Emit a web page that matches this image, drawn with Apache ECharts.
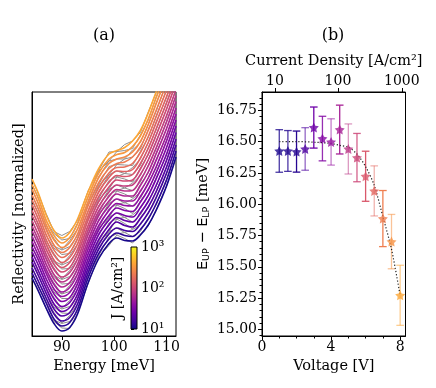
<!DOCTYPE html>
<html>
<head>
<meta charset="utf-8">
<script src="https://cdn.jsdelivr.net/npm/echarts@6/dist/echarts.min.js"></script>
<style>
html, body { margin: 0; padding: 0; background: #fff; }
#chart { width: 436px; height: 388px; }
</style>
</head>
<body>
<div id="chart"></div>
<script>
// ---- panel (a) ----
var energies = [84.3, 85.5, 87, 88.5, 90, 91.5, 93, 95, 97, 99, 100.5, 102, 103.5, 105, 106.5, 108, 110, 111.8];
// fitted reflectivity, stacked with offset, lowest current density first
var fitCurves = [
  [58, 45, 28, 12.5, 5, 8.5, 22, 53, 77, 92.5, 98, 95.5, 95, 101, 111, 125.5, 150, 179],
  [63, 50, 33, 17, 10, 13.5, 27, 58, 82, 97, 103, 100.5, 99.5, 106.5, 117, 132, 156, 185],
  [68, 55, 38, 22, 15, 18.5, 32, 63, 86.5, 102, 108, 105.5, 104.5, 112, 123, 138, 163, 191],
  [74, 60.5, 43, 27, 20, 23.5, 37, 67.5, 91, 106.5, 114, 110.5, 109, 117.5, 129, 144, 169, 197],
  [79, 65.5, 47.5, 32, 24.5, 28.5, 42, 72, 96, 111, 118.5, 115.5, 114, 123, 134.5, 150.5, 175.5, 203.5],
  [84, 71, 52.5, 37, 29.5, 33.5, 47, 77, 101, 116, 123, 120.5, 119, 128.5, 140.5, 157, 182, 210],
  [89, 76, 57.5, 42, 34.5, 38.5, 52, 82, 105.5, 120.5, 128, 125.5, 124.5, 134, 146.5, 163, 188.5, 216],
  [94.5, 81, 62.5, 47, 39.5, 43.5, 57, 86.5, 110, 125.5, 132.5, 130.5, 130, 139.5, 152.5, 169, 195, 222],
  [99.5, 86, 67, 51.5, 44, 48.5, 62, 91.5, 115, 130, 137, 135, 135, 145, 158, 175.5, 201, 228],
  [105, 91.5, 72, 56.5, 49, 53.5, 67, 96, 120, 135, 142, 140, 140, 150.5, 164, 182, 207.5, 234.5],
  [110, 96.5, 77, 61.5, 54, 58.5, 72, 101, 124.5, 139.5, 146.5, 145, 145.5, 156, 170, 188, 214, 240.5],
  [115, 101.5, 82, 66.5, 59, 63.5, 77, 106, 129, 144, 151, 150, 151, 161.5, 176, 194, 220.5, 246.5],
  [120.5, 107, 87, 71.5, 64, 68.5, 82, 110.5, 134, 149, 156, 155, 156, 167, 182, 200.5, 227, 253],
  [125.5, 112, 91.5, 76, 68.5, 73.5, 87, 115.5, 139, 153.5, 160.5, 159.5, 161.5, 172.5, 187.5, 207, 233, 259],
  [131, 117, 96.5, 81, 73.5, 78.5, 92, 120, 143.5, 158.5, 165, 164.5, 166.5, 178, 193.5, 213, 239.5, 265],
  [136, 122, 101.5, 86, 78.5, 83.5, 97, 125, 148, 163, 168.5, 169, 172.5, 183.5, 199.5, 219, 246, 271],
  [141, 127.5, 106.5, 91, 83.5, 88.5, 102, 130, 153, 167.5, 172.5, 174, 179, 189, 205.5, 225.5, 252.5, 277.5],
  [146.5, 132.5, 111.5, 96, 88.5, 93.5, 107, 134.5, 158, 172.5, 177, 179, 184, 194.5, 211.5, 232, 259, 283.5],
  [151.5, 137.5, 116, 100.5, 93, 98.5, 112, 139.5, 162.5, 177, 181.5, 183.5, 189.5, 200, 217, 238, 265, 289.5],
  [157, 143, 121, 105.5, 98, 103.5, 117, 144, 167, 182, 185.5, 188.5, 195, 205.5, 223, 244, 271.5, 296]
];
// measured traces (gray) scatter around the fits by these residuals
var dataResiduals = [
  [0, 1, -1, 2, 3, -1, 1, -1, 2, -2, 3, 2, -2, 1, -1, 1, 0, 0],
  [0, -1, 1.5, -1, 2.5, 1, -1.5, 1, -2, 2, -1, 3, 0, -2, 1, -1, 1, 0],
  [1, 0, -1, 1.5, -2, 2, 0, -1.5, 1, 2.5, 0, -2, 2, -1, 0, 1, -1, 0]
];
var energyTicks = [90, 100, 110];
var colorbarTicks = [10, 100, 1000];

// ---- panel (b) ----
var voltage = [1, 1.5, 2, 2.5, 3, 3.5, 4, 4.5, 5, 5.5, 6, 6.5, 7, 7.5, 8];
var splitting = [16.425, 16.425, 16.42, 16.441, 16.612, 16.524, 16.497, 16.596, 16.441, 16.372, 16.223, 16.106, 15.885, 15.701, 15.272];
var splittingErr = [0.17, 0.163, 0.164, 0.17, 0.164, 0.178, 0.185, 0.195, 0.2, 0.193, 0.2, 0.2, 0.224, 0.217, 0.24];
var fitVoltage = [1, 2, 3, 4, 4.5, 5, 5.5, 6, 6.5, 7, 7.5, 8];
var fitSplitting = [16.5, 16.5, 16.495, 16.485, 16.47, 16.455, 16.4, 16.3, 16.15, 15.9, 15.64, 15.27];
var voltageTicks = [0, 4, 8];
var splittingTicks = [15, 15.25, 15.5, 15.75, 16, 16.25, 16.5, 16.75];
var currentTicks = ['10', '100', '1000'];
var currentTickVoltage = [0.75, 4.4, 8.1];

// styles
var pointColorPos = [0.03, 0.04, 0.05, 0.13, 0.21, 0.27, 0.32, 0.37, 0.44, 0.5, 0.56, 0.61, 0.68, 0.74, 0.8];
var barAlpha = [0.8, 0.8, 1, 0.6, 1, 0.85, 0.55, 1, 0.5, 0.85, 1, 0.5, 1, 0.55, 0.55];

var plasmaStops = ['#0d0887', '#41049d', '#6a00a8', '#8f0da4', '#b12a90', '#cc4778',
  '#e16462', '#f2844b', '#fca636', '#fcce25', '#f0f921'];

function hexRgb(h) {
  return [parseInt(h.substr(1, 2), 16), parseInt(h.substr(3, 2), 16), parseInt(h.substr(5, 2), 16)];
}
function plasma(t, a) {
  var p = Math.max(0, Math.min(1, t)) * (plasmaStops.length - 1);
  var i = Math.min(Math.floor(p), plasmaStops.length - 2), f = p - i;
  var c0 = hexRgb(plasmaStops[i]), c1 = hexRgb(plasmaStops[i + 1]);
  var c = c0.map(function (v, j) { return Math.round(v + (c1[j] - v) * f); });
  return 'rgba(' + c.join(',') + ',' + (a == null ? 1 : a) + ')';
}

var FONT = 'DejaVu Serif';
var STAR = 'path://M0,-10L2.94,-4.05L9.51,-3.09L4.76,1.55L5.88,8.09L0,5L-5.88,8.09L-4.76,1.55L-9.51,-3.09L-2.94,-4.05Z';

var series = [];
// gray measured traces
fitCurves.forEach(function (row, k) {
  var res = dataResiduals[k % dataResiduals.length];
  series.push({
    type: 'line', xAxisIndex: 0, yAxisIndex: 0,
    data: energies.map(function (e, i) { return [e, row[i] + res[i]]; }),
    showSymbol: false, smooth: false, silent: true, z: 1,
    lineStyle: { color: '#8e8e8e', width: 1 }
  });
});
// coloured fits
fitCurves.forEach(function (row, k) {
  series.push({
    type: 'line', xAxisIndex: 0, yAxisIndex: 0,
    data: energies.map(function (e, i) { return [e, row[i]]; }),
    showSymbol: false, smooth: 0.35, silent: true, z: 2,
    lineStyle: { color: plasma(0.02 + k * 0.041), width: 1.6 }
  });
});
// error bars
series.push({
  type: 'custom', xAxisIndex: 1, yAxisIndex: 1, z: 3,
  data: voltage.map(function (v, i) {
    return {
      value: [v, splitting[i] - splittingErr[i], splitting[i] + splittingErr[i]],
      itemStyle: { color: plasma(pointColorPos[i], barAlpha[i]) }
    };
  }),
  renderItem: function (params, api) {
    var top = api.coord([api.value(0), api.value(2)]);
    var bot = api.coord([api.value(0), api.value(1)]);
    var w = 3.8;
    var st = { stroke: api.visual('color'), lineWidth: 1.3, fill: null };
    return {
      type: 'group', children: [
        { type: 'line', shape: { x1: top[0], y1: top[1], x2: bot[0], y2: bot[1] }, style: st },
        { type: 'line', shape: { x1: top[0] - w, y1: top[1], x2: top[0] + w, y2: top[1] }, style: st },
        { type: 'line', shape: { x1: bot[0] - w, y1: bot[1], x2: bot[0] + w, y2: bot[1] }, style: st }
      ]
    };
  }
});
// fit line
series.push({
  type: 'line', xAxisIndex: 1, yAxisIndex: 1, z: 4,
  data: fitVoltage.map(function (v, i) { return [v, fitSplitting[i]]; }),
  showSymbol: false, smooth: 0.3, silent: true,
  lineStyle: { color: '#222', width: 1.2, type: [1.2, 2] }
});
// star markers
series.push({
  type: 'scatter', xAxisIndex: 1, yAxisIndex: 1, z: 5,
  symbol: STAR, symbolSize: 10,
  data: voltage.map(function (v, i) {
    return { value: [v, splitting[i]], itemStyle: { color: plasma(pointColorPos[i], 1) } };
  })
});

var yMinorTicks = [];
for (var t = 14.95; t < 16.9; t += 0.05) {
  var r = Math.round(t * 100) / 100;
  if (Math.abs(r * 4 - Math.round(r * 4)) > 1e-6) yMinorTicks.push(r);
}

var labelStyle = { color: '#000', fontFamily: FONT, fontSize: 14 };
var nameStyle = { color: '#000', fontFamily: FONT, fontSize: 14.5 };
var gridBorder = { show: true, borderColor: '#000', borderWidth: 1, backgroundColor: 'transparent' };

var option = {
  animation: false,
  textStyle: { fontFamily: FONT },
  grid: [
    Object.assign({ left: 32, top: 92, width: 144, height: 244 }, gridBorder),
    Object.assign({ left: 262, top: 92, width: 143.5, height: 244 }, gridBorder),
    { left: 131, top: 247, width: 6, height: 82 }
  ],
  xAxis: [
    {
      gridIndex: 0, type: 'value', min: 84.3, max: 111.8,
      name: 'Energy [meV]', nameLocation: 'middle', nameGap: 21, nameTextStyle: nameStyle,
      axisLine: { lineStyle: { color: '#000' } },
      axisTick: { customValues: energyTicks, length: 4, lineStyle: { color: '#000' } },
      axisLabel: Object.assign({ customValues: energyTicks, margin: 4 }, labelStyle),
      splitLine: { show: false }
    },
    {
      gridIndex: 1, type: 'value', min: 0, max: 8.31,
      name: 'Voltage [V]', nameLocation: 'middle', nameGap: 21, nameTextStyle: nameStyle,
      axisLine: { lineStyle: { color: '#000' } },
      axisTick: { customValues: voltageTicks, length: 4, lineStyle: { color: '#000' } },
      axisLabel: Object.assign({ customValues: voltageTicks, margin: 4 }, labelStyle),
      splitLine: { show: false }
    },
    {
      gridIndex: 1, type: 'value', min: 0, max: 8.31, position: 'bottom',
      axisLine: { show: false },
      axisTick: { customValues: [1, 2, 3, 5, 6, 7], length: 2.5, lineStyle: { color: '#000' } },
      axisLabel: { show: false }, splitLine: { show: false }
    },
    {
      gridIndex: 1, type: 'value', min: 0, max: 8.31, position: 'top',
      name: 'Current Density [A/cm²]', nameLocation: 'middle', nameGap: 23, nameTextStyle: nameStyle,
      axisLine: { lineStyle: { color: '#000' } },
      axisTick: { customValues: currentTickVoltage, length: 4, lineStyle: { color: '#000' } },
      axisLabel: Object.assign({
        customValues: currentTickVoltage, margin: 4,
        formatter: function (v) {
          var i = currentTickVoltage.indexOf(v);
          return i < 0 ? '' : currentTicks[i];
        }
      }, labelStyle),
      splitLine: { show: false }
    },
    { gridIndex: 2, type: 'value', min: 0, max: 1, show: false }
  ],
  yAxis: [
    {
      gridIndex: 0, type: 'value', min: 0, max: 244,
      name: 'Reflectivity [normalized]', nameLocation: 'middle', nameGap: 5, nameTextStyle: nameStyle,
      axisLine: { lineStyle: { color: '#000' } },
      axisTick: { show: false }, axisLabel: { show: false }, splitLine: { show: false }
    },
    {
      gridIndex: 1, type: 'value', min: 14.947, max: 16.896,
      name: '{m|E}{s|UP}{m| − E}{s|LP}{r| [meV]}', nameLocation: 'middle', nameGap: 50,
      nameTextStyle: {
        color: '#000', fontFamily: FONT, fontSize: 14.5,
        rich: {
          m: { color: '#000', fontFamily: 'DejaVu Sans', fontSize: 14.5, lineHeight: 18 },
          s: { color: '#000', fontFamily: 'DejaVu Sans', fontSize: 9.5, lineHeight: 18, verticalAlign: 'bottom', padding: [5, 0, 0, 0] },
          r: { color: '#000', fontFamily: FONT, fontSize: 14.5, lineHeight: 18 }
        }
      },
      axisLine: { lineStyle: { color: '#000' } },
      axisTick: { customValues: splittingTicks, length: 4, lineStyle: { color: '#000' } },
      axisLabel: Object.assign({
        customValues: splittingTicks, margin: 5,
        formatter: function (v) { return v.toFixed(2); }
      }, labelStyle),
      splitLine: { show: false }
    },
    {
      gridIndex: 1, type: 'value', min: 14.947, max: 16.896, position: 'left',
      axisLine: { show: false },
      axisTick: { customValues: yMinorTicks, length: 2.5, lineStyle: { color: '#000' } },
      axisLabel: { show: false }, splitLine: { show: false }
    },
    {
      gridIndex: 2, type: 'log', logBase: 10, min: 10, max: 1000, position: 'right',
      axisLine: { show: false },
      axisTick: { customValues: colorbarTicks, length: 3, lineStyle: { color: '#000' } },
      axisLabel: Object.assign({
        customValues: colorbarTicks, margin: 4,
        formatter: function (v) { return { 10: '10¹', 100: '10²', 1000: '10³' }[Math.round(v)]; }
      }, labelStyle),
      splitLine: { show: false }
    }
  ],
  graphic: [
    { type: 'text', x: 104, y: 36, z: 10,
      style: { text: '(a)', font: '16px "DejaVu Serif"', fill: '#000', textAlign: 'center', textVerticalAlign: 'middle', align: 'center', verticalAlign: 'middle' } },
    { type: 'text', x: 333, y: 36, z: 10,
      style: { text: '(b)', font: '16px "DejaVu Serif"', fill: '#000', textAlign: 'center', textVerticalAlign: 'middle', align: 'center', verticalAlign: 'middle' } },
    { type: 'rect', z: 10, shape: { x: 131, y: 247, width: 6, height: 82 },
      style: {
        stroke: '#000', lineWidth: 1,
        fill: new echarts.graphic.LinearGradient(0, 1, 0, 0, plasmaStops.map(function (c, i) {
          return { offset: i / (plasmaStops.length - 1), color: c };
        }))
      } },
    { type: 'text', x: 118, y: 288, z: 10, rotation: Math.PI / 2,
      style: { text: 'J [A/cm²]', font: '14px "DejaVu Serif"', fill: '#000', textAlign: 'center', textVerticalAlign: 'middle', align: 'center', verticalAlign: 'middle' } }
  ],
  series: series
};

var myChart = echarts.init(document.getElementById('chart'));
myChart.setOption(option);
</script>
</body>
</html>
